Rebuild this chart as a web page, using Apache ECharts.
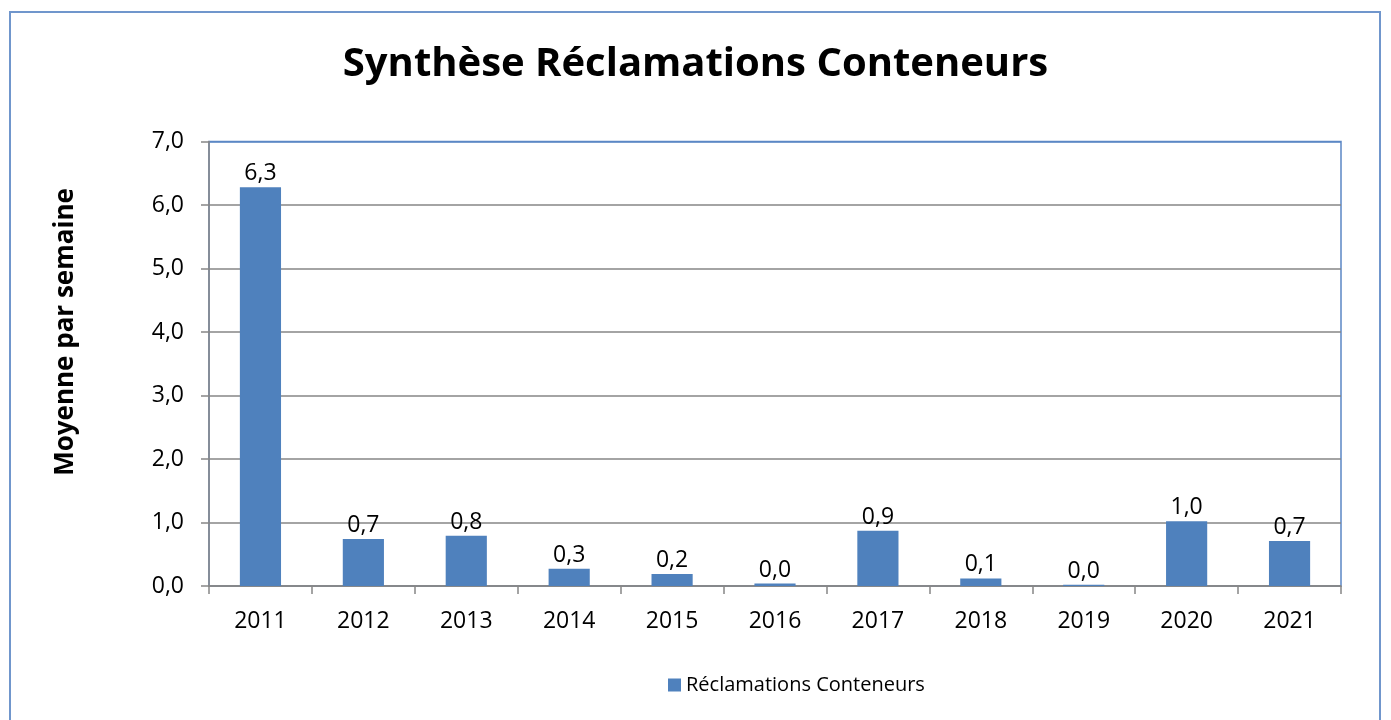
<!DOCTYPE html>
<html>
<head>
<meta charset="utf-8">
<title>Synthèse Réclamations Conteneurs</title>
<script src="https://cdn.jsdelivr.net/npm/echarts@6/dist/echarts.min.js"></script>
<style>
  html, body { margin: 0; padding: 0; background: #fff; overflow: hidden; }
  .frame {
    position: absolute;
    left: 9px;
    top: 11px;
    width: 1372px;
    height: 740px;
    border: 2px solid #7096cc;
    box-sizing: border-box;
  }
  #chart { position: absolute; left: 0; top: 0; width: 1391px; height: 720px; }
</style>
</head>
<body>
<div class="frame"></div>
<div id="chart"></div>
<script>
const years = ["2011", "2012", "2013", "2014", "2015", "2016", "2017", "2018", "2019", "2020", "2021"];
const moyenne = [6.28, 0.74, 0.79, 0.27, 0.19, 0.04, 0.87, 0.12, 0.02, 1.02, 0.71];
const yTicks = [0, 1, 2, 3, 4, 5, 6, 7];

const font = "'Open Sans', 'Noto Sans', sans-serif";
const fr = (v) => Number(v).toFixed(1).replace(".", ",");

const chart = echarts.init(document.getElementById("chart"), null, { renderer: "canvas" });

const option = {
  animation: false,
  title: {
    text: "Synthèse Réclamations Conteneurs",
    left: "center",
    top: 40,
    textStyle: { fontFamily: font, fontSize: 40, fontWeight: "bold", color: "#000" },
  },
  graphic: [
    {
      type: "text",
      x: 66,
      y: 332,
      rotation: Math.PI / 2,
      style: {
        text: "Moyenne par semaine",
        fontFamily: font,
        fontSize: 26,
        fontWeight: "bold",
        fill: "#000",
        align: "center",
        verticalAlign: "middle",
      },
    },
  ],
  legend: {
    data: ["Réclamations Conteneurs"],
    left: 668,
    top: 675,
    padding: 0,
    icon: "rect",
    itemWidth: 13,
    itemHeight: 13,
    textStyle: { fontFamily: font, fontSize: 20, color: "#000" },
  },
  grid: {
    left: 209,
    right: 50,
    top: 141.5,
    bottom: 134,
    show: true,
    borderColor: "#5b87c5",
    borderWidth: 1.5,
  },
  xAxis: {
    type: "category",
    data: years,
    axisLine: { lineStyle: { color: "#868686", width: 1.5 } },
    axisTick: { show: true, length: 8, lineStyle: { color: "#868686", width: 1.5 } },
    axisLabel: { fontFamily: font, fontSize: 23, color: "#000", margin: 24 },
  },
  yAxis: {
    type: "value",
    min: yTicks[0],
    max: yTicks[yTicks.length - 1],
    interval: 1,
    axisLine: { show: true, lineStyle: { color: "#868686", width: 1.5 } },
    axisTick: { show: true, length: 8, lineStyle: { color: "#868686", width: 1.5 } },
    axisLabel: { fontFamily: font, fontSize: 23, color: "#000", margin: 25, formatter: fr },
    splitLine: {
      lineStyle: {
        width: 1.5,
        color: yTicks.map((t, i) => (i === yTicks.length - 1 ? "#5b87c5" : "#868686")),
      },
    },
  },
  series: [
    {
      name: "Réclamations Conteneurs",
      type: "bar",
      data: moyenne,
      barWidth: "40%",
      itemStyle: { color: "#4f81bd" },
      label: {
        show: true,
        position: "top",
        distance: 2,
        fontFamily: font,
        fontSize: 23,
        color: "#000",
        formatter: (p) => fr(p.value),
      },
    },
  ],
};

chart.setOption(option);
</script>
</body>
</html>
